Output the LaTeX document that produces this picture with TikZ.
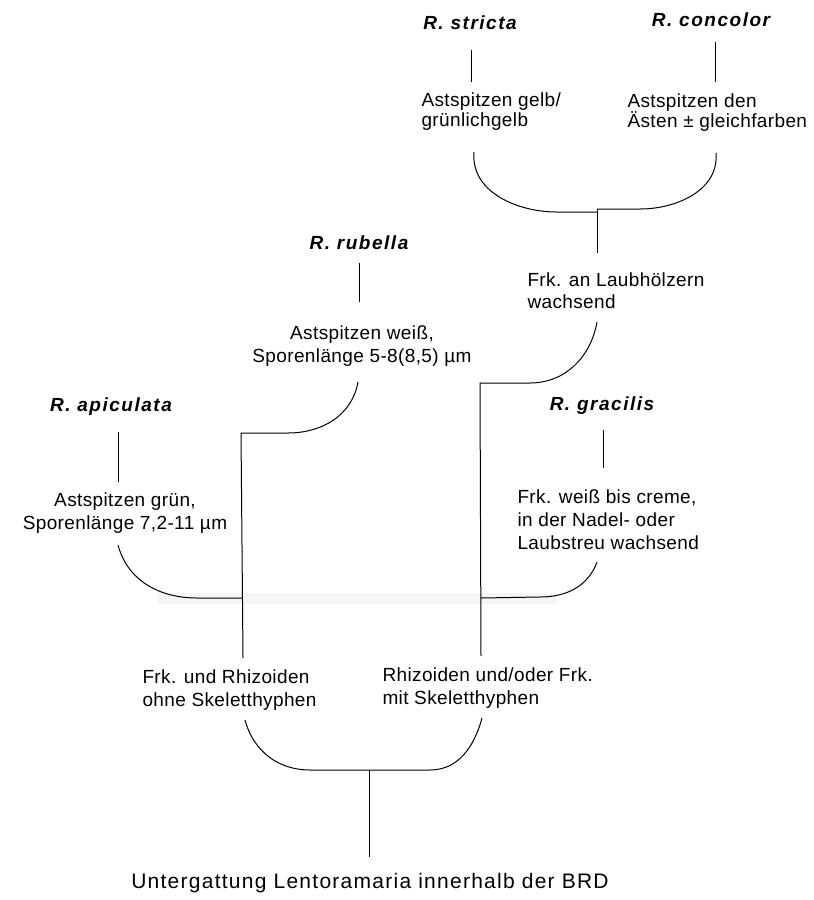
\documentclass[tikz,border=0pt]{standalone}
\usepackage{fontspec}
\setmainfont{Liberation Sans}[LetterSpace=2]
\newfontfamily\spfont{Liberation Sans}[LetterSpace=8]
\newfontfamily\ttlfont{Liberation Sans}[LetterSpace=6]
\begin{document}
\begin{tikzpicture}[x=1pt,y=-1pt,line width=1pt,
  sp/.style={font=\spfont\bfseries\itshape\fontsize{19}{23}\selectfont,inner sep=0},
  tx/.style={font=\fontsize{19}{23}\selectfont,inner sep=0,align=left,anchor=west},
  txc/.style={font=\fontsize{19}{23}\selectfont,inner sep=0,align=center},
  ttl/.style={font=\ttlfont\fontsize{21}{25}\selectfont,inner sep=0},
  band/.style={fill=black!4,draw=none}]
\useasboundingbox (0,0) rectangle (814,900);
% species
\node[sp] (stricta) at (470,23) {R. stricta};
\node[sp] (concolor) at (711,20) {R. concolor};
\node[sp] (rubella) at (359,243) {R. rubella};
\node[sp] (apiculata) at (111,407) {R. apiculata};
\node[sp] (gracilis) at (602,406) {R. gracilis};
% characters
\node[tx,font=\fontsize{19}{20}\selectfont] (tstricta) at (421,112) {Astspitzen gelb/\\grünlichgelb};
\node[tx,font=\fontsize{19}{20}\selectfont] (tconcolor) at (627,113) {Astspitzen den\\Ästen ± gleichfarben};
\node[tx,font=\fontsize{19}{22}\selectfont] (tlaub) at (527,291) {Frk. an Laubhölzern\\wachsend};
\node[txc] (trubella) at (362,346) {Astspitzen weiß,\\Sporenlänge 5-8(8,5) µm};
\node[txc] (tapic) at (125,513) {Astspitzen grün,\\Sporenlänge 7,2-11 µm};
\node[tx] (tgrac) at (517,520) {Frk. weiß bis creme,\\in der Nadel- oder\\Laubstreu wachsend};
\node[tx] (tohne) at (142,690) {Frk. und Rhizoiden\\ohne Skeletthyphen};
\node[tx] (tmit) at (382,688) {Rhizoiden und/oder Frk.\\mit Skeletthyphen};
\node[ttl] (title) at (370,883) {Untergattung Lentoramaria innerhalb der BRD};
% connector points
\coordinate (s1) at (471,50); \coordinate (s2) at (471,82);
\coordinate (c1) at (715,42); \coordinate (c2) at (715,82);
\coordinate (r1) at (359,263); \coordinate (r2) at (359,302);
\coordinate (a1) at (118,432); \coordinate (a2) at (118,482);
\coordinate (g1) at (603,430); \coordinate (g2) at (603,468);
\coordinate (sL) at (474,152); \coordinate (sLe) at (557,212);
\coordinate (cR) at (716,153); \coordinate (cRe) at (640,209);
\coordinate (j1a) at (597,212); \coordinate (j1b) at (597,209); \coordinate (j1c) at (597,253);
\coordinate (lb) at (597,322); \coordinate (lbe) at (530,383);
\coordinate (j2) at (480,383); \coordinate (j2b) at (481,598); \coordinate (j2c) at (481,656);
\coordinate (rb) at (358,382); \coordinate (rbe) at (288,433);
\coordinate (j3) at (241,433); \coordinate (j3b) at (242,598); \coordinate (j3c) at (243,658);
\coordinate (ap) at (118,545); \coordinate (ape) at (197,598);
\coordinate (gr) at (597,562); \coordinate (gre) at (540,597);
\coordinate (oh) at (245,720); \coordinate (ohe) at (310,770);
\coordinate (mi) at (482,718); \coordinate (mie) at (430,770);
\coordinate (j4) at (369,770); \coordinate (j4b) at (369,857);
\coordinate (bd1) at (157,593); \coordinate (bd2) at (557,604);
% faint band
\fill[band] (bd1) rectangle (bd2);
% connectors
\draw (s1) -- (s2);
\draw (c1) -- (c2);
\draw (r1) -- (r2);
\draw (a1) -- (a2);
\draw (g1) -- (g2);
\draw (sL) to[out=-95,in=180] (sLe) -- (j1a);
\draw (cR) to[out=-85,in=0] (cRe) -- (j1b);
\draw (j1b) -- (j1c);
\draw (lb) to[out=-100,in=0] (lbe) -- (j2) -- (j2c);
\draw (rb) to[out=-100,in=0] (rbe) -- (j3) -- (j3c);
\draw (ap) to[out=-75,in=180] (ape) -- (j3b);
\draw (gr) to[out=-110,in=0] (gre) -- (j2b);
\draw (oh) to[out=-75,in=180] (ohe) -- (mie) to[out=0,in=-105] (mi);
\draw (j4) -- (j4b);
\end{tikzpicture}
\end{document}
